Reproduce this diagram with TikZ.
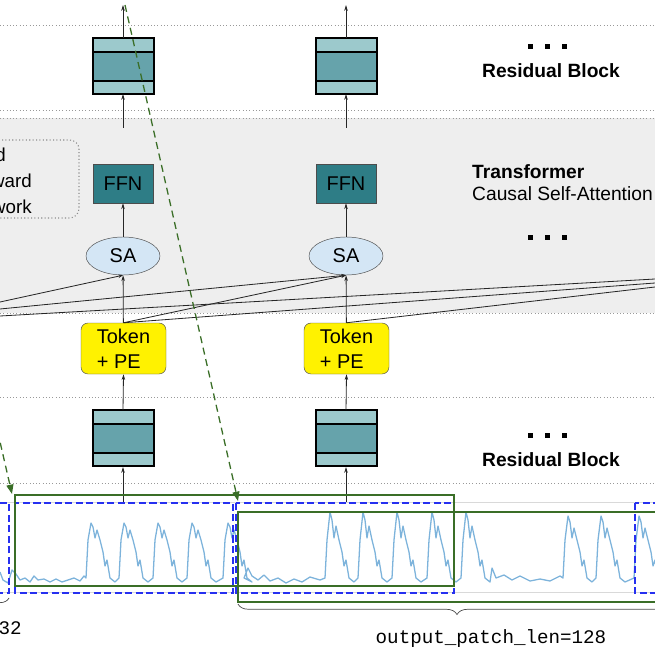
\documentclass[tikz,border=0pt]{standalone}
\usepackage{fontspec}
\setmainfont{Liberation Sans}
\setmonofont{Liberation Mono}
\usetikzlibrary{arrows.meta,decorations.pathreplacing,shapes.geometric}
\definecolor{tealL}{HTML}{9CC9CC}
\definecolor{tealM}{HTML}{66A3AB}
\definecolor{tealD}{HTML}{2E7D86}
\definecolor{saB}{HTML}{D4E6F5}
\definecolor{gbg}{HTML}{EEEEEE}
\definecolor{gdk}{HTML}{3A6E27}
\definecolor{bl}{HTML}{2630F0}
\definecolor{ts}{HTML}{7DB3DB}
\begin{document}
\begin{tikzpicture}[x=0.03cm,y=-0.03cm,
  dotl/.style={dotted,line width=0.8pt,gray!80},
  arr/.style={-{Stealth[length=5pt,width=3pt]},line width=0.7pt,black!85},
  ffn/.style={draw=black!70,fill=tealD,minimum width=60*0.03cm,minimum height=39*0.03cm,inner sep=0,font=\fontsize{17}{20}\selectfont},
  sa/.style={ellipse,draw=black!70,fill=saB,minimum width=74*0.03cm,minimum height=38*0.03cm,inner sep=0,font=\fontsize{17}{20}\selectfont},
  tok/.style={draw=black!70,fill=yellow,rounded corners=6pt,minimum width=85*0.03cm,minimum height=51*0.03cm,inner sep=0,align=left,font=\fontsize{17}{21}\selectfont},
  lbl/.style={font=\bfseries\fontsize{16.4}{19}\selectfont,inner sep=0},
  bdash/.style={draw=bl,dashed,dash pattern=on 6pt off 3pt,line width=1.4pt},
  gbox/.style={draw=gdk,line width=1.3pt},
  garr/.style={draw=gdk,dashed,dash pattern=on 6pt off 4pt,line width=1.1pt,-{Triangle[length=8pt,width=6pt]}},
  att/.style={line width=0.7pt,black!85}]
\useasboundingbox (0,0) rectangle (655,655);
\clip (0,0) rectangle (655,655);
\fill[gbg] (0,118) rectangle (655,313);
\foreach \y in {25,110,118,313,397,483} \draw[dotl] (0,\y) -- (655,\y);
% residual blocks
\newcommand{\resblk}[2]{%
  \fill[tealL] (#1,#2) rectangle (#1+61,#2+56);
  \fill[tealM] (#1,#2+14) rectangle (#1+61,#2+43);
  \draw[line width=1.6pt] (#1,#2) rectangle (#1+61,#2+56);
  \draw[line width=1.6pt] (#1,#2+14) -- (#1+61,#2+14) (#1,#2+43) -- (#1+61,#2+43);}
\resblk{93}{38}\resblk{316}{38}\resblk{93}{410}\resblk{316}{410}
\coordinate (rt1) at (123,38); \coordinate (rt2) at (346,38);
\coordinate (rb1) at (123,94); \coordinate (rb2) at (346,94);
\coordinate (up1) at (123,5); \coordinate (up2) at (346,5);
\coordinate (tt1) at (123,128); \coordinate (tt2) at (346,128);
\draw[arr] (rt1) -- (up1); \draw[arr] (rt2) -- (up2);
\draw[arr] (tt1) -- (rb1); \draw[arr] (tt2) -- (rb2);
% left dotted box
\draw[dotted,line width=0.9pt,gray!90,rounded corners=8pt] (-20,140) rectangle (79,218);
\node[anchor=east,align=left,inner sep=0,font=\fontsize{16}{22}\selectfont] (ffnlbl) at (32,181) {Feed\\Forward\\Network};
% FFN, SA, Token
\node[ffn] (f1) at (123,183.5) {FFN};
\node[ffn] (f2) at (346,183.5) {FFN};
\node[sa] (s1) at (123,256) {SA};
\node[sa] (s2) at (346,256) {SA};
\node[tok] (k1) at (123.5,348.5) {Token\\+ PE};
\node[tok] (k2) at (346.5,348.5) {Token\\+ PE};
\draw[arr] (s1) -- (f1); \draw[arr] (s2) -- (f2);
\draw[arr] (k1) -- (s1); \draw[arr] (k2) -- (s2);
% attention lines
\coordinate (l1) at (0,302); \coordinate (l2) at (0,309); \coordinate (l3) at (0,316);
\coordinate (r1) at (655,279); \coordinate (r2) at (655,283); \coordinate (r3) at (655,287);
\draw[att,-{Stealth[length=4pt,width=3pt]}] (l1) -- (s1.south);
\draw[att,-{Stealth[length=4pt,width=3pt]}] (l2) -- (s2.south);
\draw[att,-{Stealth[length=4pt,width=3pt]}] (k1.north) -- (s2.south);
\draw[att] (l3) -- (r1);
\draw[att] (k1.north) -- (r2);
\draw[att] (k2.north) -- (r3);
% labels
\node[lbl] (rl1) at (551,71) {Residual Block};
\node[lbl] (rl2) at (551,460) {Residual Block};
\node[lbl,anchor=west] (tr) at (472,172) {Transformer};
\node[anchor=west,inner sep=0,font=\fontsize{16.4}{19}\selectfont] (csa) at (472,194) {Causal Self-Attention};
\foreach \y in {47,237,435} \foreach \x in {530,547,564} \fill (\x-2.5,\y-2.5) rectangle (\x+2.5,\y+2.5);
\draw[arr] (123,503) -- (123,467); \draw[arr] (346,503) -- (346,467);
\draw[arr] (123,410) -- (k1.south); \draw[arr] (346,410) -- (k2.south);
% time series frame
\draw[gray!30,line width=0.6pt] (0,502) -- (655,502) (0,592) -- (655,592);
\draw[ts,line width=1.1pt,line join=round] (0,572) -- (3,580) -- (8,583) -- (12,570) -- (16,574) -- (20,580) -- (25,578) -- (30,582) -- (34,576) -- (38,580) -- (44,579) -- (50,582) -- (56,579) -- (62,582) -- (68,580) -- (74,578) -- (80,581) -- (84,576)
 foreach \p in {91,124,158,192,228} { -- (\p-5,578) -- (\p-3,540) -- (\p,523) -- (\p+2,527) -- (\p+4,538) -- (\p+6,530) -- (\p+9,540) -- (\p+12,552) -- (\p+14,566) -- (\p+16,560) -- (\p+19,578) -- (\p+24,582) }
 -- (244,578) -- (248,568) -- (252,576) -- (258,580) -- (264,575) -- (270,581) -- (278,578) -- (286,583) -- (294,579) -- (302,582) -- (310,577) -- (320,580)
 foreach \p in {330,363,397,432,466} { -- (\p-5,578) -- (\p-3,540) -- (\p,512) -- (\p+2,520) -- (\p+4,538) -- (\p+6,526) -- (\p+9,540) -- (\p+12,552) -- (\p+14,566) -- (\p+16,560) -- (\p+19,578) -- (\p+24,582) }
 -- (492,568) -- (496,578) -- (504,575) -- (512,580) -- (520,576) -- (530,581) -- (540,579) -- (550,581) -- (560,576)
 foreach \p in {568,601,639} { -- (\p-5,578) -- (\p-3,540) -- (\p,516) -- (\p+2,522) -- (\p+4,538) -- (\p+6,528) -- (\p+9,540) -- (\p+12,552) -- (\p+14,566) -- (\p+16,560) -- (\p+19,578) -- (\p+24,582) };
% dashed blue windows
\draw[bdash] (-30,503) rectangle (9,593);
\draw[bdash] (15,503) rectangle (233,593);
\draw[bdash] (236,503) rectangle (454,593);
\draw[bdash] (635,503) rectangle (700,593);
% green windows
\draw[gbox] (15,495) rectangle (454,586);
\draw[gbox] (238,512) rectangle (700,602);
% braces
\draw[black!70,line width=0.6pt,decorate,decoration={brace,amplitude=8pt,mirror}] (-40,598) -- (9,598);
\draw[black!70,line width=0.6pt,decorate,decoration={brace,amplitude=9pt,mirror}] (238,604) -- (676,604);
\node[anchor=east,inner sep=0,font=\ttfamily\fontsize{16.4}{19}\selectfont] (ipl) at (22,630) {input\_patch\_len=32};
\node[inner sep=0,font=\ttfamily\fontsize{16.4}{19}\selectfont] (opl) at (491,639) {output\_patch\_len=128};
% green dashed arrows
\coordinate (ga0) at (125,5); \coordinate (ga1) at (238,501);
\coordinate (gb0) at (-5,420); \coordinate (gb1) at (12,494);
\draw[garr] (ga0) -- (ga1);
\draw[garr] (gb0) -- (gb1);
\end{tikzpicture}
\end{document}
